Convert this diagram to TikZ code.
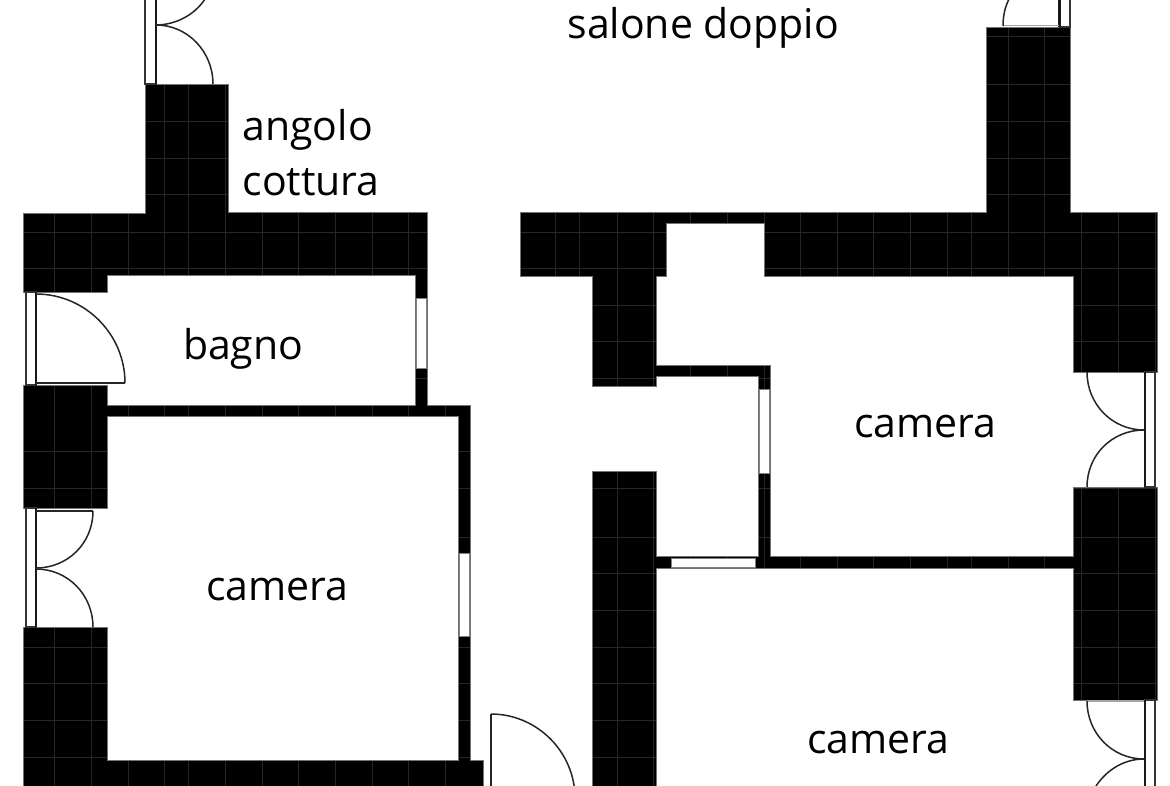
\documentclass[tikz,border=0pt]{standalone}
\usepackage{fontspec}
\setmainfont{Open Sans}
\def\wallL{(23,213) -- (145,213) -- (145,84) -- (228,84) -- (228,212) -- (427,212) -- (427,405) -- (470,405) -- (470,760) -- (483,760) -- (483,790) -- (23,790) -- (23,627) -- (107,627) -- (107,760) -- (458,760) -- (458,416) -- (107,416) -- (107,508) -- (23,508) -- (23,385) -- (107,385) -- (107,405) -- (415,405) -- (415,275) -- (107,275) -- (107,292) -- (23,292) -- cycle}
\def\wallR{(520,212) -- (986,212) -- (986,27) -- (1070,27) -- (1070,212) -- (1157,212) -- (1157,372) -- (1073,372) -- (1073,276) -- (764,276) -- (764,223) -- (666,223) -- (666,276) -- (656,276) -- (656,365) -- (770,365) -- (770,556) -- (1073,556) -- (1073,487) -- (1157,487) -- (1157,700) -- (1073,700) -- (1073,568) -- (656,568) -- (656,790) -- (592,790) -- (592,471) -- (656,471) -- (656,556) -- (758,556) -- (758,376) -- (656,376) -- (656,386) -- (592,386) -- (592,276) -- (520,276) -- cycle}
\tikzset{
  x=1pt,y=-1pt,
  wall/.style={fill=black,draw=black!55,line width=0.8pt,line join=miter},
  tile/.style={draw=black!85,line width=0.8pt},
  glass/.style={fill=white,draw=black!80,line width=1.2pt},
  frame/.style={draw=black!90,line width=2.2pt},
  door/.style={draw=black!85,line width=1.5pt},
  lintel/.style={draw=black!35,line width=1.6pt},
  pane/.style={fill=white,draw=black!50,line width=0.8pt},
  room/.style={anchor=base west,inner sep=0pt,outer sep=0pt,font=\fontsize{41}{45}\selectfont,text=black}
}
\begin{document}
\begin{tikzpicture}
\useasboundingbox (0,0) rectangle (1170,785);
\fill[white] (0,0) rectangle (1170,785);
\clip (0,0) rectangle (1170,785);
% walls
\path[wall] \wallL;
\path[wall] \wallR;
% tile joints, left block
\begin{scope}
\clip \wallL;
\foreach \gx in {54,91,128,164,188,225,262,298,335,372,408,445}
  \draw[tile] (\gx,80) -- (\gx,790);
\foreach \gy in {121,158,194,232,268,305,341,378,451,488,537,573,610,647,683,720,757}
  \draw[tile] (20,\gy) -- (490,\gy);
\end{scope}
% tile joints, right block
\begin{scope}
\clip \wallR;
\foreach \gx in {555,579,617,653,690,727,764,800,837,873,910,947,971,1008,1044,1081,1118,1155}
  \draw[tile] (\gx,20) -- (\gx,790);
\foreach \gy in {36,84,121,158,194,232,268,305,341,378,451,488,537,573,610,647,683,720,757}
  \draw[tile] (515,\gy) -- (1160,\gy);
\end{scope}
% re-stroke outlines over joints
\path[draw=black!55,line width=0.8pt] \wallL;
\path[draw=black!55,line width=0.8pt] \wallR;
% windows in thin walls
\path[pane] (416,298) rectangle (426,368);
\path[pane] (459,553) rectangle (469,636);
\path[pane] (759,389) rectangle (769,473);
\path[pane] (671,558) rectangle (755,567);
% french windows
\path[glass] (26,292) rectangle (36,385);
\draw[frame] (36,292) -- (36,385);
\path[glass] (26,508) rectangle (36,627);
\draw[frame] (36,508) -- (36,627);
\path[glass] (145,-5) rectangle (156,84);
\draw[frame] (156,-5) -- (156,84);
\path[glass] (1060,-5) rectangle (1070,27);
\draw[frame] (1059.5,-5) -- (1059.5,27);
\path[glass] (1145,372) rectangle (1155,487);
\draw[frame] (1145,372) -- (1145,487);
\path[glass] (1145,700) rectangle (1155,790);
\draw[frame] (1145,700) -- (1145,790);
% door leaves
\draw[door] (36,383) -- (125,383);
\draw[door] (36,294) .. controls (85,294) and (125,334) .. (125,383);
\draw[door] (36,511) -- (93,511);
\draw[door] (93,511) .. controls (93,543) and (68,568) .. (36,568);
\draw[door] (36,569) .. controls (68,569) and (93,595) .. (93,627);
\draw[door] (156,25) .. controls (188,25) and (213,52) .. (213,84);
\draw[door] (156,25) .. controls (174,25) and (194,16) .. (205,-1);
\draw[lintel] (1003,25.5) -- (1059,25.5);
\draw[door] (1003,26) .. controls (1003,16) and (1005,7) .. (1009,-1);
\draw[door] (1087,372) .. controls (1087,404) and (1112,430) .. (1144,430);
\draw[door] (1144,430) .. controls (1112,430) and (1087,455) .. (1087,487);
\draw[lintel] (1087,701) -- (1144,701);
\draw[door] (1087,701) .. controls (1087,733) and (1112,759) .. (1144,759);
\draw[door] (1144,759) .. controls (1126,759) and (1108,768) .. (1096,786);
\draw[door] (491,790) -- (491,714);
\draw[door] (491,714) .. controls (537,714) and (575,752) .. (575,798);
% labels
\node[room] (salone) at (567.5,38) {salone doppio};
\node[room] (angolo) at (242.5,140) {angolo};
\node[room] (cottura) at (242.5,195) {cottura};
\node[room] (bagno) at (183,359) {bagno};
\node[room] (cameraA) at (206,600) {camera};
\node[room] (cameraB) at (854,437) {camera};
\node[room] (cameraC) at (807,753) {camera};
\end{tikzpicture}
\end{document}
